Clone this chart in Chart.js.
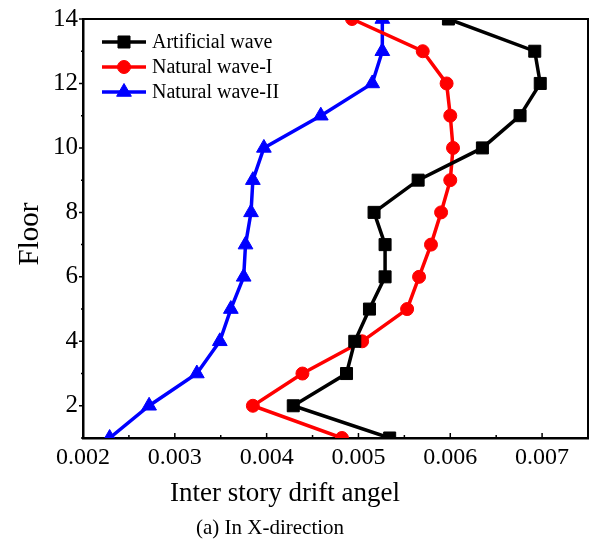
<!DOCTYPE html>
<html>
<head>
<meta charset="utf-8">
<script src="https://cdn.jsdelivr.net/npm/chart.js@4/dist/chart.umd.min.js"></script>
<style>
  html,body{margin:0;padding:0;background:#fff;}
  #wrap{width:590px;height:542px;}
</style>
</head>
<body>
<div id="wrap"><canvas id="drift" width="590" height="542"></canvas></div>
<script>
const FLOORS=[1,2,3,4,5,6,7,8,9,10,11,12,13,14];
const ARTIFICIAL=[0.00534,0.00429,0.00487,0.00496,0.00512,0.00529,0.00529,0.00517,0.00565,0.00635,0.00676,0.00698,0.00692,0.00598];
const NATURAL_I=[0.00482,0.00385,0.00439,0.00504,0.00553,0.00566,0.00579,0.00590,0.00600,0.00603,0.00600,0.00596,0.00570,0.00493];
const NATURAL_II=[0.00229,0.00272,0.00324,0.00349,0.00361,0.00375,0.00377,0.00383,0.00385,0.00397,0.00459,0.00515,0.00526,0.00526];
const X_TICKS=[0.002,0.003,0.004,0.005,0.006,0.007];
const X_MINOR=[0.0025,0.0035,0.0045,0.0055,0.0065,0.0075];
const Y_TICKS=[2,4,6,8,10,12,14];
const Y_MINOR=[1,3,5,7,9,11,13];

const SERIF='"Liberation Serif","Times New Roman",serif';

function series(label,vals,color,style,radius){
  return {label,data:vals.map((v,i)=>({x:v,y:FLOORS[i]})),
    borderColor:color,backgroundColor:color,borderWidth:3.5,
    pointStyle:style,pointRadius:radius,pointBorderWidth:1,pointBackgroundColor:color,pointBorderColor:color,
    showLine:true,clip:0};
}

// ticks, frame, axis titles and the in-plot legend
const decor={
  id:'decor',
  afterDraw(chart){
    const {ctx,chartArea:a,scales:{x,y}}=chart;
    ctx.save();
    ctx.strokeStyle='#000';
    ctx.lineWidth=2;
    ctx.beginPath();
    ctx.moveTo(a.left,a.top);ctx.lineTo(a.right,a.top);ctx.lineTo(a.right,a.bottom);
    ctx.stroke();
    ctx.lineWidth=1.5;
    ctx.beginPath();
    X_TICKS.forEach(v=>{const p=x.getPixelForValue(v);ctx.moveTo(p,a.bottom);ctx.lineTo(p,a.bottom-5);});
    X_MINOR.forEach(v=>{const p=x.getPixelForValue(v);ctx.moveTo(p,a.bottom);ctx.lineTo(p,a.bottom-3);});
    Y_TICKS.forEach(v=>{const p=y.getPixelForValue(v);ctx.moveTo(a.left,p);ctx.lineTo(a.left-4,p);});
    Y_MINOR.forEach(v=>{const p=y.getPixelForValue(v);ctx.moveTo(a.left,p);ctx.lineTo(a.left-2,p);});
    ctx.stroke();

    ctx.fillStyle='#000';
    ctx.textAlign='center';ctx.textBaseline='middle';
    ctx.font='27px '+SERIF;
    ctx.fillText('Inter story drift angel',285,494);
    ctx.font='21px '+SERIF;
    ctx.fillText('(a) In X-direction',270,528);
    ctx.save();
    ctx.translate(30,234);ctx.rotate(-Math.PI/2);
    ctx.font='29px '+SERIF;
    ctx.fillText('Floor',0,0);
    ctx.restore();

    ctx.font='20px '+SERIF;
    ctx.textAlign='left';
    chart.data.datasets.forEach((ds,i)=>{
      const ly=42+i*25;
      ctx.strokeStyle=ds.borderColor;ctx.lineWidth=ds.borderWidth;
      ctx.beginPath();ctx.moveTo(102,ly);ctx.lineTo(146,ly);ctx.stroke();
      ctx.fillStyle=ds.borderColor;ctx.lineWidth=1;
      Chart.helpers.drawPoint(ctx,{pointStyle:ds.pointStyle,radius:ds.pointRadius,rotation:0,borderWidth:1},124,ly);
      ctx.fillStyle='#000';
      ctx.fillText(ds.label,152,ly+1);
    });
    ctx.restore();
  }
};

new Chart(document.getElementById('drift'),{
  type:'scatter',
  data:{datasets:[
    series('Artificial wave',ARTIFICIAL,'#000000','rect',8.5),
    series('Natural wave-I',NATURAL_I,'#ff0000','circle',6.5),
    series('Natural wave-II',NATURAL_II,'#0000ff','triangle',8.5)
  ]},
  options:{
    responsive:false,animation:false,
    layout:{autoPadding:false,padding:{top:19,right:2,bottom:0,left:0}},
    plugins:{legend:{display:false},tooltip:{enabled:false}},
    scales:{
      x:{type:'linear',min:0.002,max:0.0075,
        afterBuildTicks:s=>{s.ticks=X_TICKS.map(v=>({value:v}));},
        afterFit:s=>{s.height=104;s.paddingLeft=0;s.paddingRight=0;},
        grid:{display:false,drawTicks:false},
        border:{display:true,color:'#000',width:2.5},
        ticks:{color:'#000',padding:5,maxRotation:0,font:{family:SERIF,size:24},callback:v=>v.toFixed(3)}},
      y:{type:'linear',min:1,max:14,
        afterBuildTicks:s=>{s.ticks=Y_TICKS.map(v=>({value:v}));},
        afterFit:s=>{s.width=83;s.paddingTop=0;s.paddingBottom=0;},
        grid:{display:false,drawTicks:false},
        border:{display:true,color:'#000',width:2.5},
        ticks:{color:'#000',padding:5,font:{family:SERIF,size:25}}}
    }
  },
  plugins:[decor]
});
</script>
</body>
</html>
